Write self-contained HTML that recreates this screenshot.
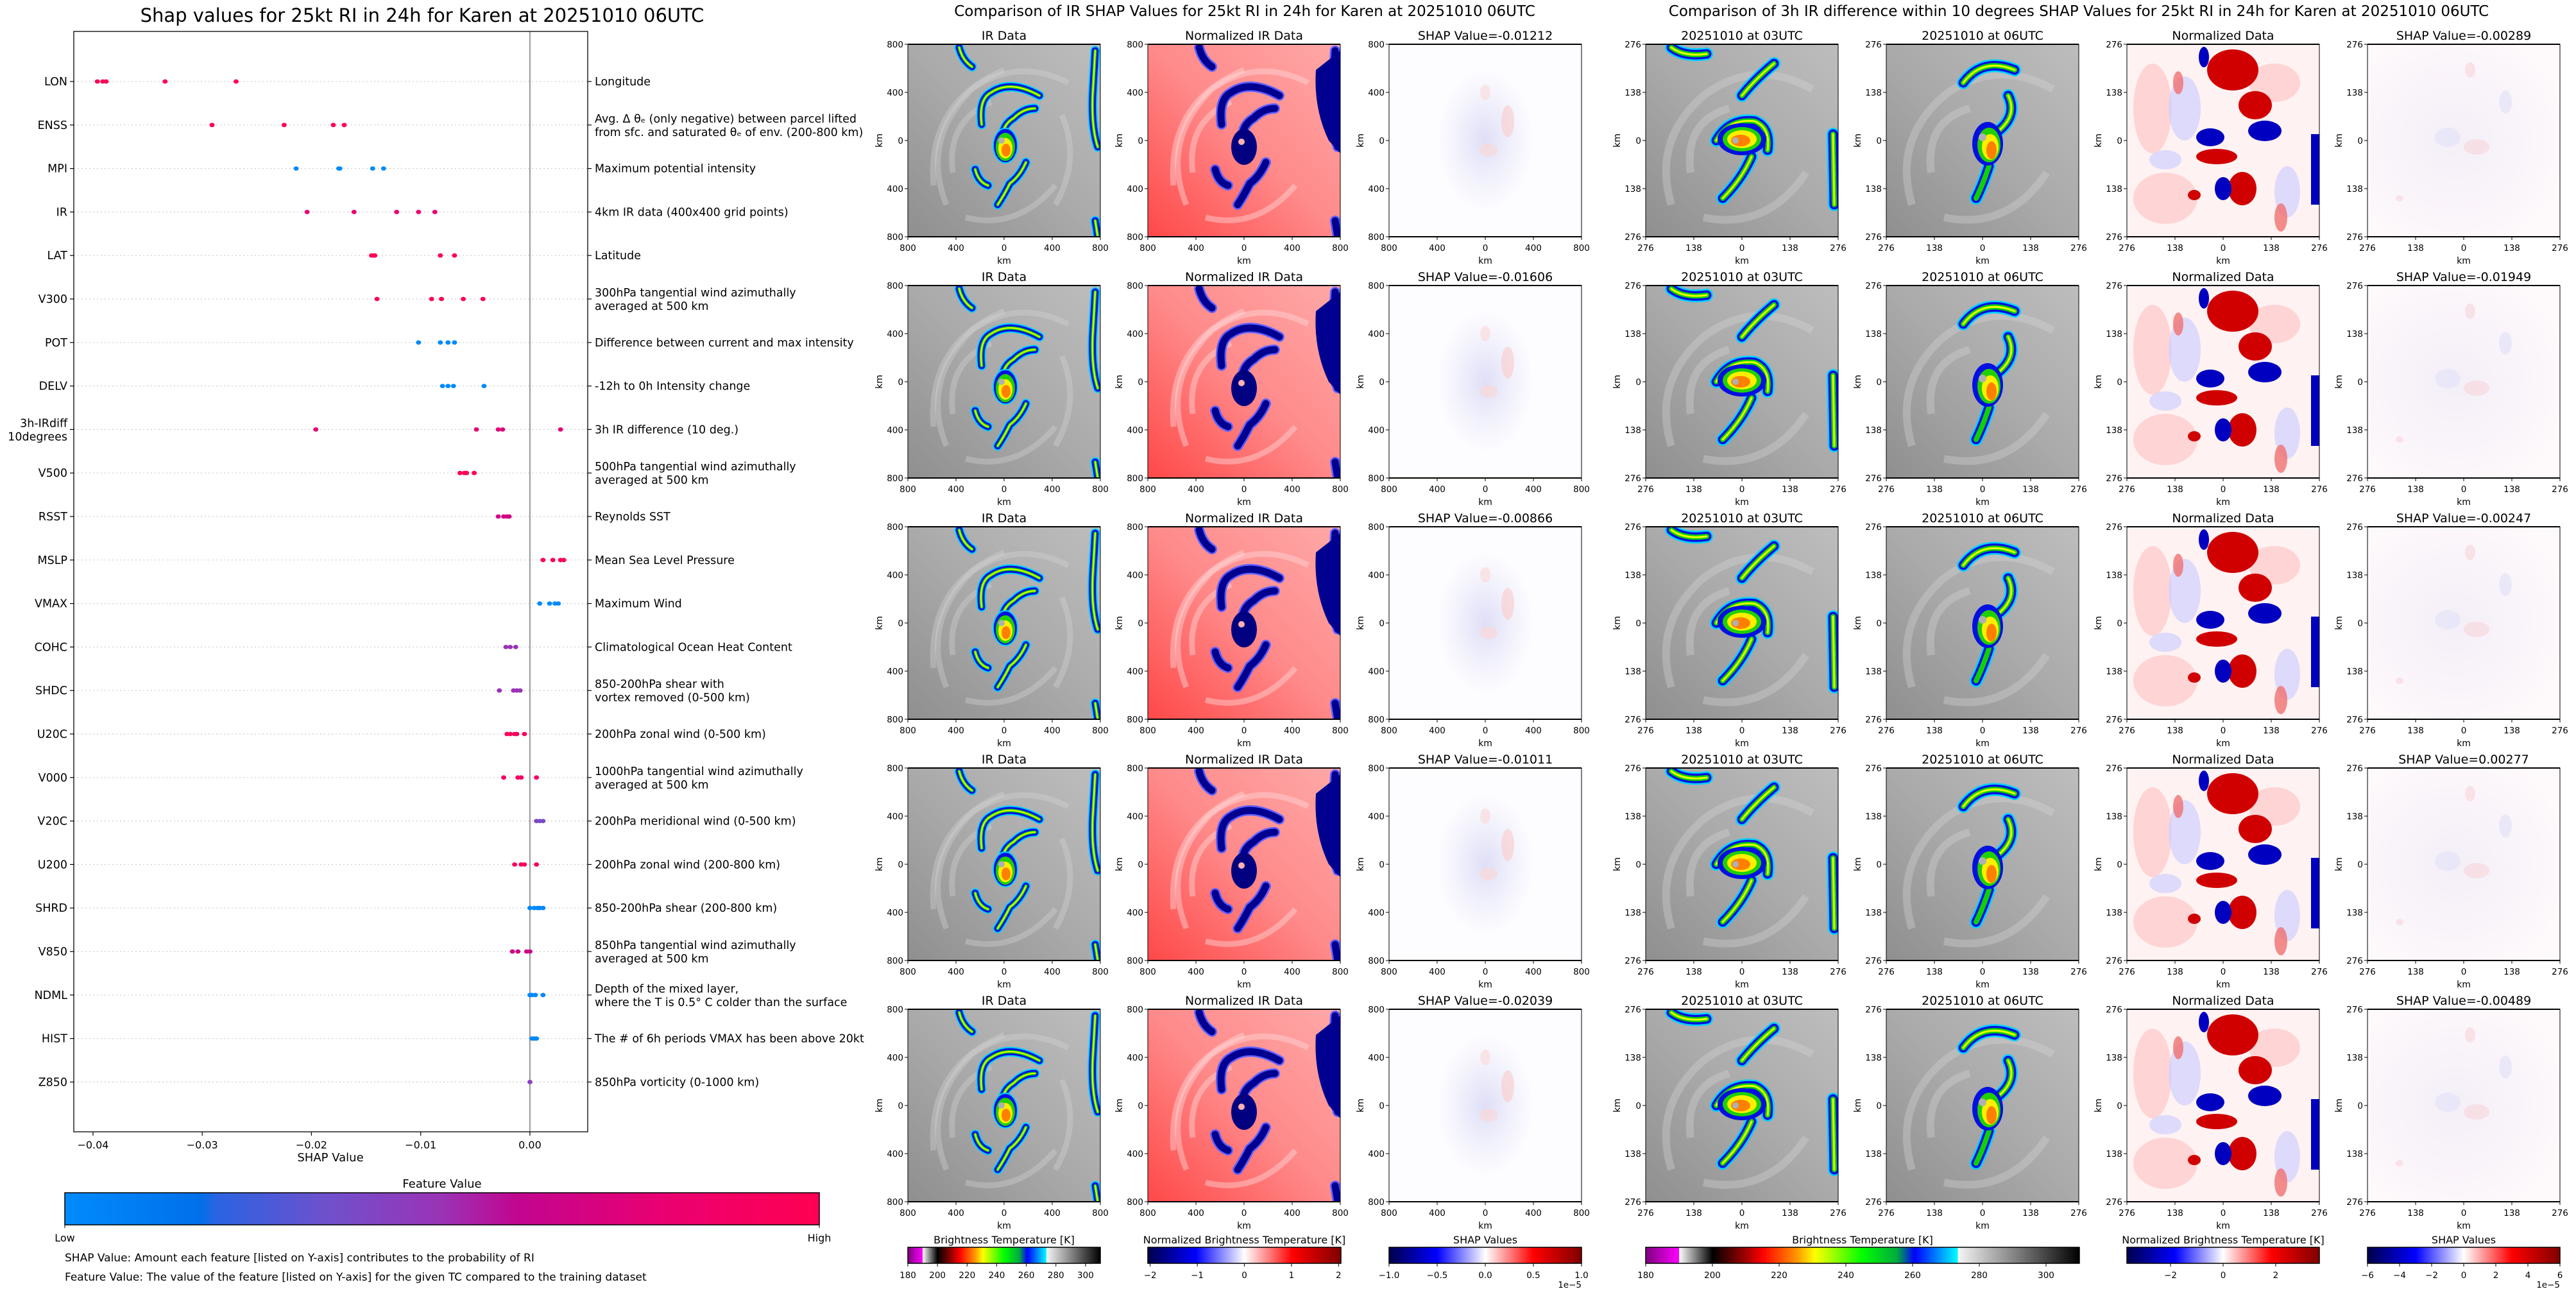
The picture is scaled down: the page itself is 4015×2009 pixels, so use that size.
<!DOCTYPE html>
<html><head><meta charset="utf-8"><style>
html,body{margin:0;padding:0;background:#fff;}
svg{display:block;font-family:"DejaVu Sans","Liberation Sans",sans-serif;}
</style></head><body>
<svg id="fig" xmlns="http://www.w3.org/2000/svg" width="4015" height="2009" viewBox="0 0 4015 2009">
<defs>
 <linearGradient id="gShapCmap" x1="0" x2="1" y1="0" y2="0">
  <stop offset="0" stop-color="#008bfb"/><stop offset="0.18" stop-color="#0070ea"/>
  <stop offset="0.2" stop-color="#2a63e2"/><stop offset="0.35" stop-color="#7050cc"/>
  <stop offset="0.5" stop-color="#9a33b5"/><stop offset="0.6" stop-color="#c2058f"/>
  <stop offset="0.8" stop-color="#eb0070"/><stop offset="1" stop-color="#ff0052"/>
 </linearGradient>
 <linearGradient id="gBT" x1="0" x2="1">
  <stop offset="0" stop-color="#800080"/><stop offset="0.077" stop-color="#ff00ff"/>
  <stop offset="0.077" stop-color="#ffffff"/><stop offset="0.154" stop-color="#000000"/>
  <stop offset="0.23" stop-color="#a00000"/><stop offset="0.27" stop-color="#ff0000"/>
  <stop offset="0.35" stop-color="#ff9900"/><stop offset="0.39" stop-color="#ffff00"/>
  <stop offset="0.5" stop-color="#00ff00"/><stop offset="0.58" stop-color="#00aa40"/>
  <stop offset="0.62" stop-color="#0000ff"/><stop offset="0.72" stop-color="#00ffff"/>
  <stop offset="0.72" stop-color="#f5f5f5"/><stop offset="1" stop-color="#000000"/>
 </linearGradient>
 <linearGradient id="gSeis" x1="0" x2="1">
  <stop offset="0" stop-color="#00004c"/><stop offset="0.25" stop-color="#0000ff"/>
  <stop offset="0.5" stop-color="#ffffff"/><stop offset="0.75" stop-color="#ff0000"/>
  <stop offset="1" stop-color="#800000"/>
 </linearGradient>
 <linearGradient id="gIR" x1="1" y1="0" x2="0" y2="1">
  <stop offset="0" stop-color="#bdbdbd"/><stop offset="0.5" stop-color="#aaaaaa"/><stop offset="1" stop-color="#8f8f8f"/>
 </linearGradient>
 <linearGradient id="gNorm" x1="1" y1="0" x2="0" y2="1">
  <stop offset="0" stop-color="#ffa8a8"/><stop offset="0.5" stop-color="#ff8a8a"/><stop offset="1" stop-color="#ff4848"/>
 </linearGradient>
 <radialGradient id="gShapMid" cx="0.5" cy="0.5" r="0.5">
  <stop offset="0" stop-color="#d2d2f4"/><stop offset="0.6" stop-color="#eeeefb"/><stop offset="1" stop-color="#fdfcff"/>
 </radialGradient>
 <radialGradient id="gShapR" cx="0.45" cy="0.5" r="0.6">
  <stop offset="0" stop-color="#f4eef8"/><stop offset="1" stop-color="#fef9fb"/>
 </radialGradient>

 <g id="armsMid" fill="none" stroke-linecap="round" stroke-linejoin="round">
  <path d="M115 125 Q110 85 130 75 Q160 55 205 80"/>
  <path d="M150 165 Q140 130 165 115 Q180 100 198 100"/>
  <path d="M184 184 Q175 205 159 217 Q150 235 140 250"/>
  <path d="M80 5 Q85 25 100 35"/>
  <path d="M292 10 L288 80 Q286 130 296 160"/>
  <path d="M292 275 L296 300"/>
  <path d="M105 195 Q110 215 125 220"/>
 </g>
 <g id="armsZoom" fill="none" stroke-linecap="round" stroke-linejoin="round">
  <path d="M150 80 Q170 55 200 30"/>
  <path d="M110 150 Q130 115 170 120 Q195 130 190 165"/>
  <path d="M165 175 Q150 210 120 240"/>
  <path d="M40 5 Q60 20 95 15"/>
  <path d="M292 140 L294 250"/>
 </g>

 <symbol id="sym-ir" viewBox="0 0 300 300">
  <rect width="300" height="300" fill="url(#gIR)"/>
  <g fill="none" stroke="#d6d6d6" stroke-opacity="0.35" stroke-width="9">
   <path d="M60 250 Q20 150 100 70 Q170 20 250 60"/><path d="M40 220 Q30 90 150 40"/>
   <path d="M90 270 Q170 290 230 220"/><path d="M70 200 Q60 120 130 90"/>
   <path d="M230 250 Q270 180 240 110"/>
  </g>
  <use href="#armsMid" stroke="#00d0ff" stroke-width="15"/>
  <use href="#armsMid" stroke="#0010e0" stroke-width="11"/>
  <use href="#armsMid" stroke="#10d000" stroke-width="5"/>
  <use href="#armsMid" stroke="#e8ff00" stroke-width="2"/>
  <ellipse cx="152" cy="158" rx="19" ry="27" fill="#0010e0" stroke="#00d0ff" stroke-width="2"/>
  <ellipse cx="152" cy="160" rx="15" ry="22" fill="#20d000"/>
  <ellipse cx="152" cy="162" rx="11" ry="16" fill="#ffee00"/>
  <ellipse cx="153" cy="165" rx="7" ry="10" fill="#ff8000"/>
  <circle cx="146" cy="150" r="5" fill="#b0b0b0"/>
 </symbol>
 <symbol id="sym-norm" viewBox="0 0 300 300">
  <rect width="300" height="300" fill="url(#gNorm)"/>
  <g fill="none" stroke="#ffd8d8" stroke-opacity="0.45" stroke-width="9">
   <path d="M60 250 Q20 150 100 70 Q170 20 250 60"/><path d="M40 220 Q30 90 150 40"/>
   <path d="M90 270 Q170 290 230 220"/><path d="M70 200 Q60 120 130 90"/>
  </g>
  <use href="#armsMid" stroke="#6060ff" stroke-width="16"/>
  <use href="#armsMid" stroke="#000090" stroke-width="11"/>
  <path d="M262 40 L300 10 L300 170 L282 150 Q258 100 262 40Z" fill="#000090"/>
  <ellipse cx="150" cy="160" rx="20" ry="28" fill="#000080"/>
  <circle cx="146" cy="152" r="5" fill="#ffb0b0"/>
 </symbol>
 <symbol id="sym-shapmid" viewBox="0 0 300 300">
  <rect width="300" height="300" fill="#fdfcff"/>
  <ellipse cx="150" cy="150" rx="75" ry="110" fill="url(#gShapMid)" opacity="0.7"/>
  <ellipse cx="185" cy="120" rx="10" ry="25" fill="#f8d0d0" opacity="0.7"/>
  <ellipse cx="155" cy="165" rx="14" ry="10" fill="#f8d8d8" opacity="0.7"/>
  <ellipse cx="150" cy="75" rx="8" ry="12" fill="#fadcdc" opacity="0.7"/>
 </symbol>
 <symbol id="sym-ir3" viewBox="0 0 300 300">
  <rect width="300" height="300" fill="url(#gIR)"/>
  <g fill="none" stroke="#d6d6d6" stroke-opacity="0.35" stroke-width="12">
   <path d="M40 250 Q10 150 90 80 Q170 20 260 70"/><path d="M70 200 Q60 120 130 100"/>
   <path d="M90 270 Q190 290 250 200"/>
  </g>
  <use href="#armsZoom" stroke="#00d0ff" stroke-width="20"/>
  <use href="#armsZoom" stroke="#0010e0" stroke-width="15"/>
  <use href="#armsZoom" stroke="#10d000" stroke-width="8"/>
  <use href="#armsZoom" stroke="#e8ff00" stroke-width="3"/>
  <ellipse cx="150" cy="148" rx="38" ry="25" fill="#0010e0"/>
  <ellipse cx="150" cy="148" rx="30" ry="19" fill="#20d000"/>
  <ellipse cx="150" cy="148" rx="23" ry="14" fill="#ffee00"/>
  <ellipse cx="148" cy="150" rx="15" ry="9" fill="#ff8000"/>
  <circle cx="140" cy="150" r="5" fill="#b0b0b0"/>
 </symbol>
 <symbol id="sym-ir6" viewBox="0 0 300 300">
  <rect width="300" height="300" fill="url(#gIR)"/>
  <g fill="none" stroke="#d6d6d6" stroke-opacity="0.35" stroke-width="12">
   <path d="M40 250 Q10 150 90 80 Q170 20 260 70"/><path d="M70 200 Q60 120 130 100"/>
   <path d="M90 270 Q190 290 250 200"/>
  </g>
  <g fill="none" stroke-linecap="round">
   <path d="M120 60 Q150 20 200 40 M190 80 Q205 110 175 135 M160 190 Q150 220 140 240" stroke="#00d0ff" stroke-width="20"/>
   <path d="M120 60 Q150 20 200 40 M190 80 Q205 110 175 135 M160 190 Q150 220 140 240" stroke="#0010e0" stroke-width="15"/>
   <path d="M120 60 Q150 20 200 40 M190 80 Q205 110 175 135 M160 190 Q150 220 140 240" stroke="#10d000" stroke-width="8"/>
   <path d="M120 60 Q150 20 200 40 M190 80 Q205 110 175 135" stroke="#e8ff00" stroke-width="3"/>
  </g>
  <ellipse cx="158" cy="155" rx="24" ry="34" fill="#0010e0"/>
  <ellipse cx="160" cy="157" rx="18" ry="27" fill="#20d000"/>
  <ellipse cx="162" cy="160" rx="13" ry="20" fill="#ffee00"/>
  <ellipse cx="164" cy="165" rx="8" ry="14" fill="#ff8000"/>
  <circle cx="150" cy="145" r="6" fill="#b0b0b0"/>
 </symbol>
 <symbol id="sym-norm3" viewBox="0 0 300 300">
  <rect width="300" height="300" fill="#fff2f2"/>
  <g fill="#ffc8c8" opacity="0.7"><ellipse cx="60" cy="240" rx="50" ry="40"/><ellipse cx="40" cy="100" rx="30" ry="70"/><ellipse cx="230" cy="60" rx="40" ry="30"/></g>
  <g fill="#d0d0ff" opacity="0.7"><ellipse cx="90" cy="100" rx="25" ry="50"/><ellipse cx="250" cy="230" rx="20" ry="40"/><ellipse cx="60" cy="180" rx="25" ry="15"/></g>
  <g fill="#d00000">
   <ellipse cx="165" cy="40" rx="40" ry="32"/><ellipse cx="200" cy="95" rx="26" ry="22"/>
   <ellipse cx="140" cy="175" rx="32" ry="12"/><ellipse cx="180" cy="225" rx="22" ry="26"/>
   <ellipse cx="105" cy="235" rx="10" ry="8"/>
  </g>
  <g fill="#0000c0">
   <ellipse cx="215" cy="135" rx="26" ry="16"/><ellipse cx="130" cy="145" rx="22" ry="14"/>
   <ellipse cx="150" cy="225" rx="13" ry="18"/><rect x="287" y="140" width="13" height="110"/>
   <ellipse cx="120" cy="20" rx="8" ry="16"/>
  </g>
  <g fill="#f07070" opacity="0.8"><ellipse cx="240" cy="270" rx="10" ry="22"/><ellipse cx="80" cy="60" rx="8" ry="18"/></g>
 </symbol>
 <symbol id="sym-shap3" viewBox="0 0 300 300">
  <rect width="300" height="300" fill="url(#gShapR)"/>
  <g fill="#f6d8de" opacity="0.7"><ellipse cx="170" cy="160" rx="20" ry="12"/><ellipse cx="50" cy="240" rx="6" ry="5"/><ellipse cx="160" cy="40" rx="8" ry="12"/></g>
  <g fill="#e4e4f8" opacity="0.7"><ellipse cx="125" cy="145" rx="20" ry="15"/><ellipse cx="215" cy="90" rx="10" ry="18"/></g>
 </symbol>
</defs>

<text x="658" y="34" font-size="29" text-anchor="middle">Shap values for 25kt RI in 24h for Karen at 20251010 06UTC</text>
<text x="1940" y="25" font-size="23" text-anchor="middle">Comparison of IR SHAP Values for 25kt RI in 24h for Karen at 20251010 06UTC</text>
<text x="3240" y="25" font-size="23" text-anchor="middle">Comparison of 3h IR difference within 10 degrees SHAP Values for 25kt RI in 24h for Karen at 20251010 06UTC</text>

<g id="beeswarm"></g>
<g id="panels"></g>
<g id="cbars"></g>
</svg>
<script>
const features = ["LON","ENSS","MPI","IR","LAT","V300","POT","DELV","3h-IRdiff|10degrees","V500","RSST","MSLP","VMAX","COHC","SHDC","U20C","V000","V20C","U200","SHRD","V850","NDML","HIST","Z850"];
const descriptions = ["Longitude","Avg. Δ θₑ (only negative) between parcel lifted|from sfc. and saturated θₑ of env. (200-800 km)","Maximum potential intensity","4km IR data (400x400 grid points)","Latitude","300hPa tangential wind azimuthally|averaged at 500 km","Difference between current and max intensity","-12h to 0h Intensity change","3h IR difference (10 deg.)","500hPa tangential wind azimuthally|averaged at 500 km","Reynolds SST","Mean Sea Level Pressure","Maximum Wind","Climatological Ocean Heat Content","850-200hPa shear with|vortex removed (0-500 km)","200hPa zonal wind (0-500 km)","1000hPa tangential wind azimuthally|averaged at 500 km","200hPa meridional wind (0-500 km)","200hPa zonal wind (200-800 km)","850-200hPa shear (200-800 km)","850hPa tangential wind azimuthally|averaged at 500 km","Depth of the mixed layer,|where the T is 0.5° C colder than the surface","The # of 6h periods VMAX has been above 20kt","850hPa vorticity (0-1000 km)"];
const shapLON = [-0.0396,-0.0391,-0.0388,-0.0334,-0.0269];
const shapENSS = [-0.0291,-0.0225,-0.0180,-0.0170];
const shapMPI = [-0.0214,-0.0175,-0.0174,-0.0144,-0.0134];
const shapIR = [-0.0204,-0.0161,-0.0122,-0.0102,-0.0087];
const shapLAT = [-0.0145,-0.0143,-0.0142,-0.0082,-0.0069];
const shapV300 = [-0.0140,-0.0090,-0.0081,-0.0061,-0.0043];
const shapPOT = [-0.0102,-0.0082,-0.0075,-0.0069];
const shapDELV = [-0.0080,-0.0075,-0.0070,-0.0042];
const shapIRdiff = [-0.0196,-0.0049,-0.0029,-0.0025,0.0028];
const shapV500 = [-0.0064,-0.0060,-0.0058,-0.0051];
const shapRSST = [-0.0029,-0.0024,-0.0021,-0.0019];
const shapMSLP = [0.0012,0.0021,0.0028,0.0031];
const shapVMAX = [0.0009,0.0018,0.0023,0.0026];
const shapCOHC = [-0.0022,-0.0018,-0.0013];
const shapSHDC = [-0.0028,-0.0015,-0.0012,-0.0009];
const shapU20C = [-0.0021,-0.0018,-0.0014,-0.0012,-0.0005];
const shapV000 = [-0.0024,-0.0011,-0.0008,0.0006];
const shapV20C = [0.0006,0.0009,0.0012];
const shapU200 = [-0.0014,-0.0008,-0.0005,0.0006];
const shapSHRD = [0.0000,0.0004,0.0007,0.0009,0.0012];
const shapV850 = [-0.0016,-0.0011,-0.0003,0.0000];
const shapNDML = [0.0000,0.0002,0.0005,0.0012];
const shapHIST = [0.0002,0.0004,0.0006];
const shapZ850 = [0.0000];
const shapValues = [shapLON,shapENSS,shapMPI,shapIR,shapLAT,shapV300,shapPOT,shapDELV,shapIRdiff,shapV500,shapRSST,shapMSLP,shapVMAX,shapCOHC,shapSHDC,shapU20C,shapV000,shapV20C,shapU200,shapSHRD,shapV850,shapNDML,shapHIST,shapZ850];
const featureValues = [1,1,0,0.8,1,1,0,0,0.75,0.97,0.68,0.98,0,0.5,0.5,0.95,0.9,0.38,0.93,0.02,0.65,0.02,0.02,0.45];
const xTickValues = [-0.04,-0.03,-0.02,-0.01,0.00];
const xTickLabels = ["\u22120.04","\u22120.03","\u22120.02","\u22120.01","0.00"];

const NS = "http://www.w3.org/2000/svg";
function mk(parent, tag, attrs, text){const e=document.createElementNS(NS,tag);for(const k in attrs)e.setAttribute(k,attrs[k]);if(text!==undefined)e.textContent=text;parent.appendChild(e);return e;}

const AX = {left:115,right:916,top:49,bottom:1764};
const xMin=-0.04176, xMax=0.00529;
function xScale(v){return AX.left+(v-xMin)/(xMax-xMin)*(AX.right-AX.left);}
function yRow(i){return 127+i*67.8;}
const cmapStops=[[0,[0,139,251]],[0.18,[0,112,234]],[0.35,[112,80,204]],[0.5,[154,51,181]],[0.6,[194,5,143]],[0.8,[235,0,112]],[1,[255,0,82]]];
function cmap(t){for(let i=1;i<cmapStops.length;i++){if(t<=cmapStops[i][0]){const a=cmapStops[i-1],b=cmapStops[i];const f=(t-a[0])/(b[0]-a[0]);const c=a[1].map((v,k)=>Math.round(v+(b[1][k]-v)*f));return `rgb(${c})`;}}return "rgb(255,0,82)";}

const bs=document.getElementById('beeswarm');
features.forEach((f,i)=>{
 const y=yRow(i);
 const g=mk(bs,'line',{x1:AX.left,x2:AX.right,y1:y,y2:y,stroke:'#cccccc','stroke-width':1.2,'stroke-dasharray':'2,4'});
 
 
 const tl=mk(bs,'line',{x1:AX.left-6,x2:AX.left,y1:y,y2:y,stroke:'#000','stroke-width':1.2});
 
 
 const tr=mk(bs,'line',{x1:AX.right,x2:AX.right+6,y1:y,y2:y,stroke:'#000','stroke-width':1.2});
 
 
 const parts=f.split('|');
 const lab=mk(bs,'text',{x:AX.left-10,y:y+6-(parts.length-1)*10,'font-size':17.5,'text-anchor':'end'});
 
 
 parts.forEach((p,k)=>{mk(lab,'tspan',{x:AX.left-10,dy:k?21:0},p);});
 const dparts=descriptions[i].split('|');
 const dl=mk(bs,'text',{x:AX.right+11,y:y+6-(dparts.length-1)*10,'font-size':17.5});
 
 
 dparts.forEach((p,k)=>{mk(dl,'tspan',{x:AX.right+11,dy:k?21:0},p);});
});
const zl=mk(bs,'line',{x1:xScale(0),x2:xScale(0),y1:AX.top,y2:AX.bottom,stroke:'#999999','stroke-width':2});


shapValues.forEach((vals,i)=>{
 vals.forEach(v=>{
  const c=mk(bs,'ellipse',{cx:xScale(v),cy:yRow(i),rx:4,ry:3.4,fill:cmap(featureValues[i])});
  
  
 });
});
const fr=mk(bs,'rect',{x:AX.left,y:AX.top,width:AX.right-AX.left,height:AX.bottom-AX.top,fill:'none',stroke:'#000','stroke-width':1.3});


xTickValues.forEach((v,k)=>{
 const t=mk(bs,'line',{x1:xScale(v),x2:xScale(v),y1:AX.bottom,y2:AX.bottom+6,stroke:'#000','stroke-width':1.2});
 
 
 const l=mk(bs,'text',{x:xScale(v),y:AX.bottom+26,'font-size':16,'text-anchor':'middle'},xTickLabels[k]);
 
 
});
const xt=mk(bs,'text',{x:515,y:1810,'font-size':18,'text-anchor':'middle'},'SHAP Value');


const fvt=mk(bs,'text',{x:689,y:1851,'font-size':18,'text-anchor':'middle'},'Feature Value');


const cbr=mk(bs,'rect',{x:101,y:1859,width:1176,height:50,fill:'url(#gShapCmap)',stroke:'#000','stroke-width':1.5});


[[101,'Low'],[1277,'High']].forEach(([x,s])=>{
 const t=mk(bs,'line',{x1:x,x2:x,y1:1909,y2:1914,stroke:'#000'});
 
 
 const l=mk(bs,'text',{x:x,y:1935,'font-size':16,'text-anchor':'middle'},s);
 
 
});
const n1=mk(bs,'text',{x:101,y:1966,'font-size':17},'SHAP Value: Amount each feature [listed on Y-axis] contributes to the probability of RI');


const n2=mk(bs,'text',{x:101,y:1996,'font-size':17},'Feature Value: The value of the feature [listed on Y-axis] for the given TC compared to the training dataset');



const midCols=[1415,1789,2165], rightCols=[2565,2940,3315,3690];
const midShap=['-0.01212','-0.01606','-0.00866','-0.01011','-0.02039'];
const rightShap=['-0.00289','-0.01949','-0.00247','0.00277','-0.00489'];
const midTicks=['800','400','0','400','800'];
const rightTicks=['276','138','0','138','276'];
const pn=document.getElementById('panels');
function panel(x,y,sym,title,ticks,name){
 const g=mk(pn,'g',{});
 
 
 const u=mk(g,'use',{href:'#'+sym,x:x,y:y,width:300,height:300});
 
 
 const r=mk(g,'rect',{x:x,y:y,width:300,height:300,fill:'none',stroke:'#000','stroke-width':1});
 
 
 mk(g,'line',{x1:x,x2:x+300,y1:y,y2:y,stroke:'#000','stroke-width':2});
 mk(g,'line',{x1:x,x2:x+300,y1:y+300,y2:y+300,stroke:'#000','stroke-width':2});
 const t=mk(g,'text',{x:x+150,y:y-7,'font-size':19,'text-anchor':'middle'},title);
 
 
 ticks.forEach((s,k)=>{
  const yy=y+k*75, xx=x+k*75;
  mk(g,'line',{x1:x-5,x2:x,y1:yy,y2:yy,stroke:'#000'});
  const yl=mk(g,'text',{x:x-7,y:yy+5,'font-size':13.5,'text-anchor':'end'},s);
  
  
  mk(g,'line',{x1:xx,x2:xx,y1:y+300,y2:y+305,stroke:'#000'});
  const xl=mk(g,'text',{x:xx,y:y+322,'font-size':13.5,'text-anchor':'middle'},s);
  
  
 });
 const yk=mk(g,'text',{x:x-40,y:y+150,'font-size':14,'text-anchor':'middle',transform:`rotate(-90 ${x-40} ${y+150})`},'km');
 
 
 const xk=mk(g,'text',{x:x+150,y:y+342,'font-size':14,'text-anchor':'middle'},'km');
 
 
}
for(let r=0;r<5;r++){
 const y=69+r*376;
 panel(midCols[0],y,'sym-ir','IR Data',midTicks,'ir-data-panel');
 panel(midCols[1],y,'sym-norm','Normalized IR Data',midTicks,'normalized-ir-panel');
 panel(midCols[2],y,'sym-shapmid','SHAP Value='+midShap[r],midTicks,'ir-shap-panel');
 panel(rightCols[0],y,'sym-ir3','20251010 at 03UTC',rightTicks,'ir-03utc-panel');
 panel(rightCols[1],y,'sym-ir6','20251010 at 06UTC',rightTicks,'ir-06utc-panel');
 panel(rightCols[2],y,'sym-norm3','Normalized Data',rightTicks,'normalized-diff-panel');
 panel(rightCols[3],y,'sym-shap3','SHAP Value='+rightShap[r],rightTicks,'diff-shap-panel');
}

const cb=document.getElementById('cbars');
function colorbar(x,w,grad,title,vmin,vmax,ticks,labels,name,offset){
 const g=mk(cb,'g',{});
 
 
 const t=mk(g,'text',{x:x+w/2,y:1938,'font-size':16,'text-anchor':'middle'},title);
 
 
 const r=mk(g,'rect',{x:x,y:1944,width:w,height:25,fill:'url(#'+grad+')',stroke:'#000','stroke-width':1.5});
 
 
 ticks.forEach((v,k)=>{
  const xx=x+(v-vmin)/(vmax-vmin)*w;
  mk(g,'line',{x1:xx,x2:xx,y1:1969,y2:1974,stroke:'#000'});
  const l=mk(g,'text',{x:xx,y:1992,'font-size':13.5,'text-anchor':'middle'},labels[k]);
  
  
 });
 if(offset){const o=mk(g,'text',{x:x+w,y:2007,'font-size':13.5,'text-anchor':'end'},offset);
  
  }
}
const btTicks=[180,200,220,240,260,280,300];
const btLabels=['180','200','220','240','260','280','300'];
colorbar(1415,300,'gBT','Brightness Temperature [K]',180,310,btTicks,btLabels,'brightness-colorbar');
colorbar(1789,301,'gSeis','Normalized Brightness Temperature [K]',-2.05,2.05,[-2,-1,0,1,2],['\u22122','\u22121','0','1','2'],'normalized-colorbar');
colorbar(2165,300,'gSeis','SHAP Values',-1,1,[-1,-0.5,0,0.5,1],['\u22121.0','\u22120.5','0.0','0.5','1.0'],'shap-colorbar','1e\u22125');
colorbar(2565,676,'gBT','Brightness Temperature [K]',180,310,btTicks,btLabels,'diff-brightness-colorbar');
colorbar(3315,300,'gSeis','Normalized Brightness Temperature [K]',-3.66,3.66,[-2,0,2],['\u22122','0','2'],'diff-normalized-colorbar');
colorbar(3690,300,'gSeis','SHAP Values',-6,6,[-6,-4,-2,0,2,4,6],['\u22126','\u22124','\u22122','0','2','4','6'],'diff-shap-colorbar','1e\u22125');
</script>
</body></html>
